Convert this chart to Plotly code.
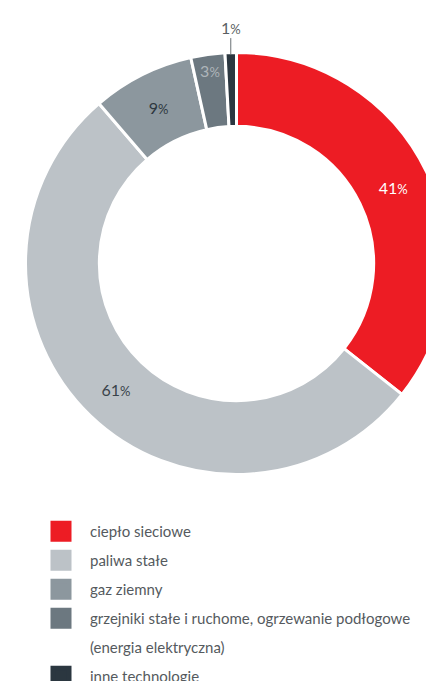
import math
import plotly.graph_objects as go

# Heating sources – share of households
categories = [
    "ciepło sieciowe",
    "paliwa stałe",
    "gaz ziemny",
    "grzejniki stałe i ruchome, ogrzewanie podłogowe",
    "inne technologie",
]
category_note = {3: "(energia elektryczna)"}
shares = [41, 61, 9, 3, 1]

colors = ["#ED1C24", "#BCC2C7", "#8C979E", "#6C7880", "#2B3740"]
label_colors = ["#FFFFFF", "#39434A", "#2E3840", "#AEB5BA", "#5A5F63"]

W, H = 470, 700
cx, cy, R = 236.5, 263.5, 211.0
PCT = "<span style='font-size:13px'>%</span>"

# the smallest slice is labelled outside the ring with a leader line
inside_label = [True, True, True, True, False]
templates = ["%{value}" + PCT if show else "" for show in inside_label]

fig = go.Figure()

fig.add_trace(go.Pie(
    labels=categories,
    values=shares,
    sort=False,
    direction="clockwise",
    rotation=0,
    hole=0.65,
    marker=dict(colors=colors, line=dict(color="#FFFFFF", width=3)),
    texttemplate=templates,
    textposition="inside",
    insidetextorientation="horizontal",
    textfont=dict(family="Lato", size=16, color=label_colors),
    hoverinfo="label+percent",
    showlegend=False,
    domain=dict(x=[(cx - R) / W, (cx + R) / W],
                y=[1 - (cy + R) / H, 1 - (cy - R) / H]),
))

# outside labels: anchor on the outer edge at the slice's mid-angle
total = sum(shares)
start = 0.0
for i, v in enumerate(shares):
    mid = 2 * math.pi * (start + v / 2) / total
    start += v
    if inside_label[i]:
        continue
    px = cx + (R - 1.5) * math.sin(mid)
    py = cy - (R - 1.5) * math.cos(mid)
    fig.add_annotation(
        x=px / W, y=1 - py / H, xref="paper", yref="paper",
        text=f"{v}" + PCT,
        font=dict(family="Lato", size=16, color=label_colors[i]),
        showarrow=True, arrowhead=0, arrowwidth=1, arrowcolor="#6A7075",
        ax=0, ay=-27, standoff=0,
    )

# legend entries (square swatches), the note line gets an invisible swatch
legend_rows = []
for i, (name, col) in enumerate(zip(categories, colors)):
    legend_rows.append((name, col, 1))
    if i in category_note:
        legend_rows.append((category_note[i], "#FFFFFF", 0))

for k, (name, col, op) in enumerate(legend_rows):
    fig.add_trace(go.Scatter(
        x=[None], y=[None], mode="markers", name=name,
        legendgroup=f"g{k}",
        marker=dict(symbol="square", size=16, color=col, opacity=1 if op else 0,
                    line=dict(color=col, width=5)),
        hoverinfo="skip",
    ))

fig.update_layout(
    width=W, height=H,
    margin=dict(l=0, r=0, t=0, b=0),
    paper_bgcolor="#FFFFFF",
    plot_bgcolor="#FFFFFF",
    xaxis=dict(visible=False),
    yaxis=dict(visible=False),
    uniformtext=dict(minsize=16, mode="show"),
    legend=dict(
        x=32 / W, xanchor="left",
        y=1 - 515 / H, yanchor="top",
        traceorder="grouped",
        tracegroupgap=6.5,
        itemwidth=48,
        font=dict(family="Lato", size=15, color="#555A5E"),
        bgcolor="rgba(0,0,0,0)",
        itemclick=False, itemdoubleclick=False,
    ),
)

fig.write_html(
    "out.html",
    config={"displayModeBar": False},
    post_script="document.documentElement.style.overflow='hidden';"
                "document.body.style.overflow='hidden';",
)
